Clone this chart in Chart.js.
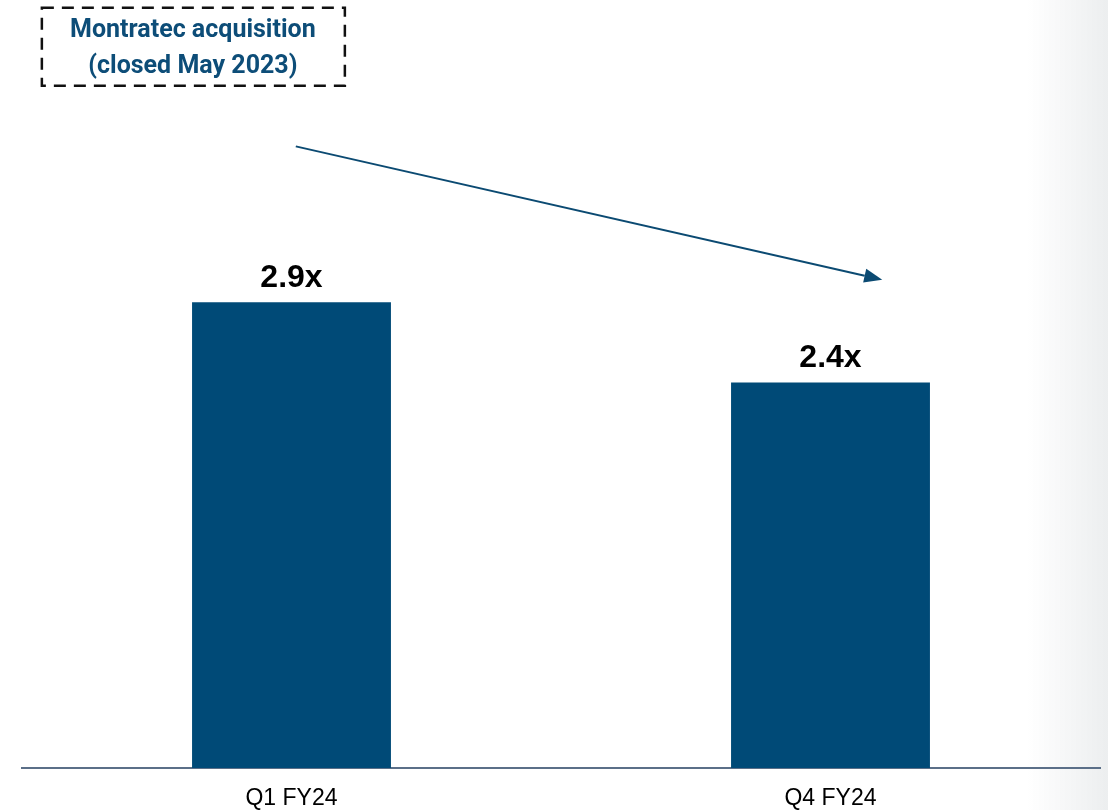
<!DOCTYPE html>
<html>
<head>
<meta charset="utf-8">
<script src="https://cdn.jsdelivr.net/npm/chart.js@4/dist/chart.umd.min.js"></script>
<style>
  html, body { margin: 0; padding: 0; background: #fff; }
  #wrap { width: 1108px; height: 810px; position: relative; }
</style>
</head>
<body>
<div id="wrap"><canvas id="leverage"></canvas></div>
<script>
// net leverage by quarter
const quarters = ['Q1 FY24', 'Q4 FY24'];
const leverage = [2.9, 2.4];

// callout + trend arrow, in (category index, value) units
const calloutLines = ['Montratec acquisition', '(closed May 2023)'];
const calloutAt = [-0.183, 4.59];
const arrowFrom = [0.008, 3.87];
const arrowTo = [1.096, 3.04];

const NAVY = '#004a77';

// soft grey fade on the right edge
const backdrop = {
  id: 'backdrop',
  beforeDraw(chart) {
    const { ctx, width, height } = chart;
    ctx.save();
    const g = ctx.createLinearGradient(width - 80, 0, width, 0);
    g.addColorStop(0, 'rgba(236,238,239,0)');
    g.addColorStop(1, 'rgba(236,238,239,1)');
    ctx.fillStyle = g;
    ctx.fillRect(width - 80, 0, 80, height);
    ctx.restore();
  }
};

// "2.9x" style labels above each bar
const valueLabels = {
  id: 'valueLabels',
  afterDatasetsDraw(chart) {
    const { ctx } = chart;
    const meta = chart.getDatasetMeta(0);
    ctx.save();
    ctx.font = 'bold 32px "Liberation Sans", Arial, sans-serif';
    ctx.fillStyle = '#000';
    ctx.textAlign = 'center';
    ctx.textBaseline = 'alphabetic';
    meta.data.forEach((bar, i) => {
      ctx.fillText(leverage[i].toFixed(1) + 'x', bar.x, bar.y - 15);
    });
    ctx.restore();
  }
};

// dashed callout box and the arrow running down toward the later quarter
const callout = {
  id: 'callout',
  afterDraw(chart) {
    const { ctx, scales: { x, y } } = chart;
    const cx = x.getPixelForValue(calloutAt[0]);
    const cy = y.getPixelForValue(calloutAt[1]);

    ctx.save();
    ctx.font = 'bold 25px Roboto, "Noto Sans", sans-serif';
    ctx.fillStyle = '#0d4d78';
    ctx.textAlign = 'center';
    ctx.textBaseline = 'middle';
    calloutLines.forEach((t, i) => ctx.fillText(t, cx, cy + i * 36));

    ctx.strokeStyle = '#111';
    ctx.lineWidth = 2.5;
    ctx.setLineDash([12, 8]);
    ctx.strokeRect(cx - 151, cy - 23, 303, 78);
    ctx.setLineDash([]);

    const x0 = x.getPixelForValue(arrowFrom[0]), y0 = y.getPixelForValue(arrowFrom[1]);
    const x1 = x.getPixelForValue(arrowTo[0]), y1 = y.getPixelForValue(arrowTo[1]);
    const ang = Math.atan2(y1 - y0, x1 - x0);
    const head = 18, half = 7;
    const bx = x1 - head * Math.cos(ang), by = y1 - head * Math.sin(ang);

    ctx.strokeStyle = '#0b4a72';
    ctx.fillStyle = '#0b4a72';
    ctx.lineWidth = 2;
    ctx.beginPath();
    ctx.moveTo(x0, y0);
    ctx.lineTo(bx, by);
    ctx.stroke();
    ctx.beginPath();
    ctx.moveTo(x1, y1);
    ctx.lineTo(bx + half * Math.sin(ang), by - half * Math.cos(ang));
    ctx.lineTo(bx - half * Math.sin(ang), by + half * Math.cos(ang));
    ctx.closePath();
    ctx.fill();
    ctx.restore();
  }
};

new Chart(document.getElementById('leverage'), {
  type: 'bar',
  data: {
    labels: quarters,
    datasets: [{
      data: leverage,
      backgroundColor: NAVY,
      barPercentage: 0.369,
      categoryPercentage: 1
    }]
  },
  options: {
    responsive: true,
    maintainAspectRatio: false,
    animation: false,
    layout: { padding: { left: 22, right: 8, top: 5, bottom: 0 } },
    plugins: { legend: { display: false }, tooltip: { enabled: false } },
    scales: {
      x: {
        afterFit(scale) { scale.height = 42; },
        grid: { display: false, drawTicks: false },
        border: { display: true, color: '#5b6f88', width: 2 },
        ticks: {
          color: '#000',
          padding: 19,
          font: { family: '"Liberation Sans", Arial, sans-serif', size: 23, lineHeight: 1 }
        }
      },
      y: {
        display: false,
        min: 0,
        max: 4.75
      }
    }
  },
  plugins: [backdrop, valueLabels, callout]
});
</script>
</body>
</html>
